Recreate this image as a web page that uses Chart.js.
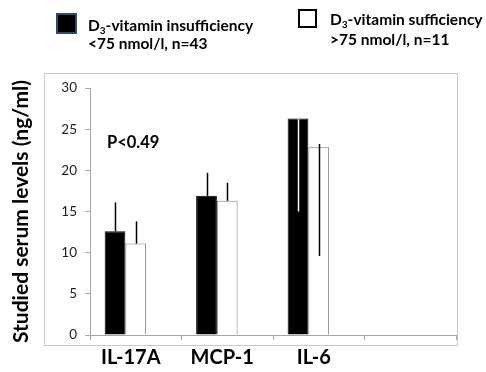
<!DOCTYPE html>
<html>
<head>
<meta charset="utf-8">
<script src="https://cdn.jsdelivr.net/npm/chart.js@4.4.1/dist/chart.umd.min.js"></script>
<style>
    html, body { margin: 0; padding: 0; background: #fff; }
    #wrap { position: relative; width: 486px; height: 372px; font-family: Lato, "Open Sans", sans-serif; }
    #chart { position: absolute; left: 0; top: 0; }
    .legend-box { position: absolute; box-sizing: border-box; }
    .legend-text { position: absolute; font-size: 15.5px; font-weight: bold; color: #000; white-space: nowrap; }
    .legend-text sub { font-size: 10px; vertical-align: -3px; line-height: 0; }
</style>
</head>
<body>
<div id="wrap">
    <canvas id="chart" width="486" height="372"></canvas>
    <div class="legend-box" style="left:56px; top:13px; width:21px; height:21px; background:#000; border:2px solid #2f4a6e;"></div>
    <div class="legend-text" style="left:88px; top:16px; line-height:18px;">D<sub>3</sub>-vitamin insufficiency<br>&lt;75 nmol/l, n=43</div>
    <div class="legend-box" style="left:298px; top:9px; width:19px; height:19px; background:#fff; border:2px solid #000;"></div>
    <div class="legend-text" style="left:330px; top:9px; line-height:20px;">D<sub>3</sub>-vitamin sufficiency<br>&gt;75 nmol/l, n=11</div>
</div>
<script>
const categories = ['IL-17A', 'MCP-1', 'IL-6', ''];
const insufficiency = [12.6, 16.9, 26.3];
const sufficiency = [11.1, 16.3, 22.8];
const insufErrTop = [16.1, 19.7, 26.2];
const insufErrBottom = [12.6, 16.9, 15.0];
const insufErrColor = ['#000', '#000', '#fff'];
const sufErrTop = [13.8, 18.5, 23.2];
const sufErrBottom = [11.1, 16.3, 9.6];
const sufErrColor = ['#000', '#000', '#000'];
const yTicks = [0, 5, 10, 15, 20, 25, 30];
const pValueText = 'P<0.49';
const pValueAt = 23.4;

// frame around the plot, like the spreadsheet chart border
const framePlugin = {
    id: 'frame',
    beforeDraw(chart) {
        const ctx = chart.ctx;
        ctx.save();
        ctx.strokeStyle = '#c8c8c8';
        ctx.lineWidth = 1;
        ctx.strokeRect(44.5, 73.5, 413, 272);
        ctx.restore();
    }
};

const errorBarPlugin = {
    id: 'errorBars',
    afterDatasetsDraw(chart) {
        const ctx = chart.ctx;
        const y = chart.scales.y;
        const sets = [
            { meta: chart.getDatasetMeta(0), top: insufErrTop, bottom: insufErrBottom, color: insufErrColor },
            { meta: chart.getDatasetMeta(1), top: sufErrTop, bottom: sufErrBottom, color: sufErrColor }
        ];
        ctx.save();
        ctx.lineWidth = 1.5;
        sets.forEach(function (s) {
            s.meta.data.forEach(function (bar, i) {
                const x = Math.round(bar.x) + 0.5;
                ctx.strokeStyle = s.color[i];
                ctx.beginPath();
                ctx.moveTo(x, y.getPixelForValue(s.top[i]));
                ctx.lineTo(x, y.getPixelForValue(s.bottom[i]));
                ctx.stroke();
            });
        });
        // p value note
        ctx.fillStyle = '#000';
        ctx.font = 'bold 16.5px Lato';
        ctx.textBaseline = 'middle';
        ctx.fillText(pValueText, chart.chartArea.left + 17, y.getPixelForValue(pValueAt));
        ctx.restore();
    }
};

new Chart(document.getElementById('chart'), {
    type: 'bar',
    data: {
        labels: categories,
        datasets: [{
            label: 'D3-vitamin insufficiency <75 nmol/l, n=43',
            data: insufficiency,
            backgroundColor: '#000',
            borderColor: '#000',
            borderWidth: 1
        }, {
            label: 'D3-vitamin sufficiency >75 nmol/l, n=11',
            data: sufficiency,
            backgroundColor: '#fff',
            borderColor: '#7f7f7f',
            borderWidth: 1
        }, {
            label: '',
            data: [null, null, null],
            backgroundColor: 'rgba(0,0,0,0)'
        }]
    },
    options: {
        responsive: false,
        animation: false,
        layout: { padding: { left: 9, right: 30, top: 88, bottom: 0 } },
        datasets: {
            bar: { categoryPercentage: 0.68, barPercentage: 1 }
        },
        plugins: {
            legend: { display: false },
            tooltip: { enabled: false }
        },
        scales: {
            x: {
                afterFit: function (scale) { scale.height = 37; },
                grid: { drawOnChartArea: false, drawTicks: true, tickLength: 5, color: '#a6a6a6' },
                border: { color: '#a6a6a6' },
                ticks: {
                    color: '#000',
                    padding: 6,
                    labelOffset: -5,
                    font: { family: 'Lato', size: 20, weight: 'bold' }
                }
            },
            y: {
                min: 0,
                max: 30,
                afterFit: function (scale) { scale.width = 81; },
                afterBuildTicks: function (scale) {
                    scale.ticks = yTicks.map(function (v) { return { value: v }; });
                },
                grid: { drawOnChartArea: false, drawTicks: true, tickLength: 5, color: '#a6a6a6' },
                border: { color: '#a6a6a6' },
                ticks: {
                    color: '#222',
                    padding: 8,
                    font: { family: 'Lato', size: 13.5 }
                },
                title: {
                    display: true,
                    text: 'Studied serum levels (ng/ml)',
                    color: '#000',
                    padding: 0,
                    font: { family: 'Lato', size: 21, weight: 'bold' }
                }
            }
        }
    },
    plugins: [framePlugin, errorBarPlugin]
});
</script>
</body>
</html>
